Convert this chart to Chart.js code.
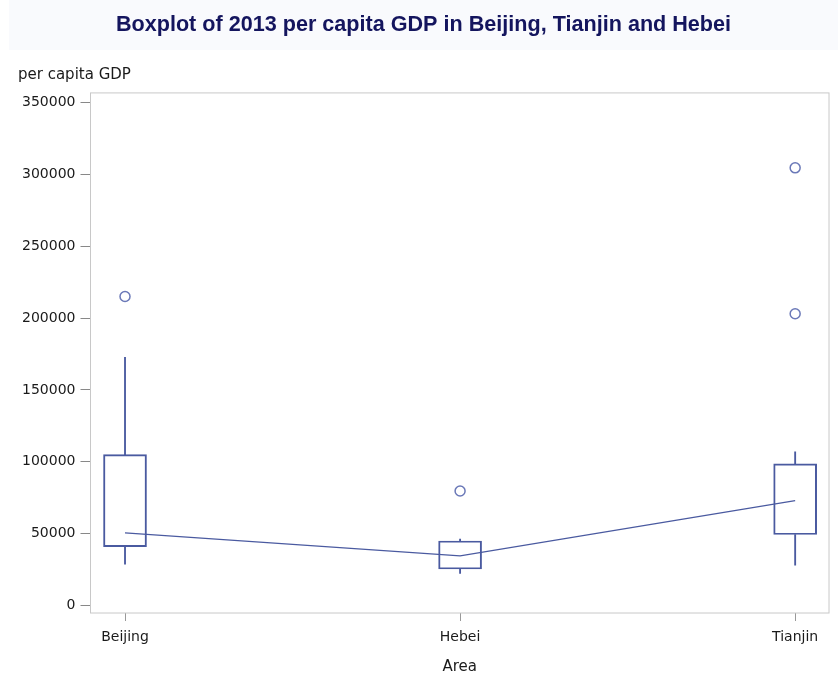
<!DOCTYPE html>
<html>
<head>
<meta charset="utf-8">
<title>Boxplot of 2013 per capita GDP</title>
<script src="https://cdn.jsdelivr.net/npm/chart.js@4"></script>
<style>
  html, body { margin: 0; padding: 0; background: #ffffff; }
  #wrap { width: 838px; height: 677px; }
</style>
</head>
<body>
<div id="wrap"><canvas id="boxChart"></canvas></div>
<script>
// data
const areas = ['Beijing', 'Hebei', 'Tianjin'];
const q1 = [41000, 25400, 49400];
const q3 = [105000, 44900, 98500];
const medians = [50500, 34500, 73000];
const whiskerLow = [28700, 22400, 28000];
const whiskerHigh = [172600, 46300, 106900];
const outliers = [[215000], [79700], [304500, 203000]];
const yTicks = [0, 50000, 100000, 150000, 200000, 250000, 300000, 350000];

const boxColor = '#4a5aa0';

document.addEventListener('DOMContentLoaded', function() {
    const ctx = document.getElementById('boxChart').getContext('2d');

    // light band behind the title + frame around plot area
    const decor = {
        id: 'decor',
        beforeDraw(chart) {
            const c = chart.ctx;
            c.save();
            c.fillStyle = '#f9fafd';
            c.fillRect(9, 0, chart.width - 9, 50);
            c.restore();
        },
        beforeDatasetsDraw(chart) {
            const a = chart.chartArea;
            const c = chart.ctx;
            c.save();
            c.strokeStyle = '#c8c8c8';
            c.lineWidth = 1;
            c.strokeRect(a.left, a.top, a.right - a.left, a.bottom - a.top);
            c.restore();
        }
    };

    const boxes = areas.map((a, i) => ({ x: i, y: [q1[i], q3[i]] }));
    const upper = areas.map((a, i) => ({ x: i, y: [q3[i], whiskerHigh[i]] }));
    const lower = areas.map((a, i) => ({ x: i, y: [whiskerLow[i], q1[i]] }));
    const medianPts = areas.map((a, i) => ({ x: i, y: medians[i] }));
    const outlierPts = [];
    outliers.forEach((list, i) => list.forEach(v => outlierPts.push({ x: i, y: v })));

    new Chart(ctx, {
        type: 'bar',
        data: {
            datasets: [
                {
                    label: 'box',
                    data: boxes,
                    grouped: false,
                    barThickness: 43,
                    backgroundColor: 'rgba(0,0,0,0)',
                    borderColor: boxColor,
                    borderWidth: 1.3,
                    borderSkipped: false
                },
                {
                    label: 'upper whisker',
                    data: upper,
                    grouped: false,
                    barThickness: 1.2,
                    backgroundColor: boxColor,
                    borderWidth: 0
                },
                {
                    label: 'lower whisker',
                    data: lower,
                    grouped: false,
                    barThickness: 1.2,
                    backgroundColor: boxColor,
                    borderWidth: 0
                },
                {
                    type: 'line',
                    label: 'median',
                    data: medianPts,
                    borderColor: boxColor,
                    borderWidth: 1.2,
                    pointRadius: 0,
                    tension: 0
                },
                {
                    type: 'scatter',
                    label: 'outliers',
                    data: outlierPts,
                    pointStyle: 'circle',
                    pointRadius: 5,
                    borderWidth: 1.5,
                    borderColor: '#6b79b8',
                    backgroundColor: 'rgba(0,0,0,0)'
                }
            ]
        },
        options: {
            responsive: true,
            maintainAspectRatio: false,
            animation: false,
            layout: {
                padding: { left: 18, right: 9, top: 0, bottom: 0 }
            },
            scales: {
                x: {
                    type: 'linear',
                    offset: false,
                    min: -0.103,
                    max: 2.101,
                    afterBuildTicks: s => { s.ticks = areas.map((a, i) => ({ value: i })); },
                    afterFit: s => { s.height = 64; },
                    ticks: {
                        callback: v => areas[v],
                        font: { family: 'DejaVu Sans', size: 14 },
                        color: '#1a1a1a',
                        padding: 8,
                        maxRotation: 0
                    },
                    grid: { offset: false, drawOnChartArea: false, tickLength: 8, color: '#999' },
                    border: { display: false },
                    title: {
                        display: true,
                        text: 'Area',
                        font: { family: 'DejaVu Sans', size: 15 },
                        color: '#1a1a1a',
                        padding: { top: 0, bottom: 1 }
                    }
                },
                y: {
                    min: -5200,
                    max: 356600,
                    afterBuildTicks: s => { s.ticks = yTicks.map(v => ({ value: v })); },
                    afterFit: s => { s.width = 72.5; },
                    ticks: {
                        callback: v => String(v),
                        font: { family: 'DejaVu Sans', size: 14 },
                        color: '#1a1a1a',
                        padding: 5
                    },
                    grid: { drawOnChartArea: false, tickLength: 10, color: '#888' },
                    border: { display: false }
                }
            },
            plugins: {
                legend: { display: false },
                tooltip: { enabled: false },
                title: {
                    display: true,
                    text: 'Boxplot of 2013 per capita GDP in Beijing, Tianjin and Hebei',
                    font: { family: 'Liberation Sans', size: 21.6, weight: 'bold' },
                    color: '#14155e',
                    padding: { top: 12, bottom: 12 }
                },
                subtitle: {
                    display: true,
                    text: 'per capita GDP',
                    align: 'start',
                    font: { family: 'DejaVu Sans', size: 15 },
                    color: '#1a1a1a',
                    padding: { top: 16, bottom: 9 }
                }
            }
        },
        plugins: [decor]
    });
});
</script>
</body>
</html>
